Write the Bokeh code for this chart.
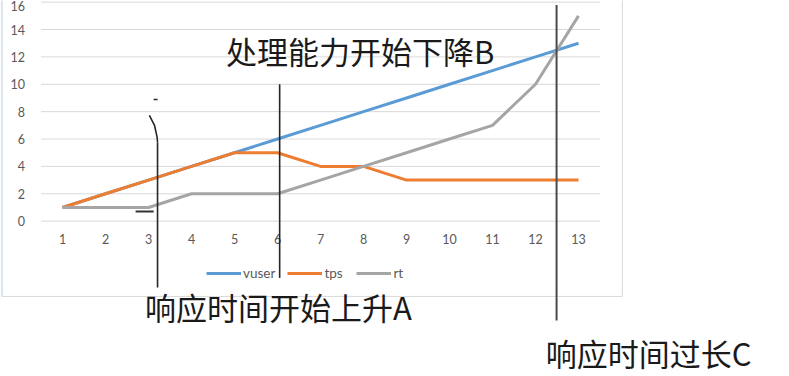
from bokeh.plotting import figure
from bokeh.models import (Range1d, FixedTicker, Legend, LegendItem, Label, Arrow, LinearAxis)
from bokeh.embed import file_html
from bokeh.resources import INLINE

# ---- data ----
x_vals = [1, 2, 3, 4, 5, 6, 7, 8, 9, 10, 11, 12, 13]
vuser = [1, 2, 3, 4, 5, 6, 7, 8, 9, 10, 11, 12, 13]
tps = [1, 2, 3, 4, 5, 5, 4, 4, 3, 3, 3, 3, 3]
rt = [1, 1, 1, 2, 2, 2, 3, 4, 5, 6, 7, 10, 15]
y_ticks = [0, 2, 4, 6, 8, 10, 12, 14, 16]
series_names = ["vuser", "tps", "rt"]

# annotation texts / positions (data units)
label_a = "响应时间开始上升A"
label_b = "处理能力开始下降B"
label_c = "响应时间过长C"
mark_a_x = 3.21
mark_b_x = 6.05
mark_c_x = 12.49

colors = ["#5B9BD5", "#ED7D31", "#A5A5A5"]
AXIS_FONT = "Lato"
CJK_FONT = "Noto Sans CJK SC"

# plot-area extent (category band edges)
X_LO, X_HI = 0.5, 13.5

p = figure(frame_width=789, frame_height=376, output_backend="svg", toolbar_location=None,
           x_range=Range1d(-0.442, 17.907), y_range=Range1d(-11.35, 16.12),
           x_axis_location=None, y_axis_location=None,
           min_border=0)
p.outline_line_color = None
p.background_fill_color = "white"
p.border_fill_color = "white"
p.xgrid.grid_line_color = None
p.ygrid.grid_line_color = None

xaxis = LinearAxis(fixed_location=0, ticker=FixedTicker(ticks=x_vals))
yaxis = LinearAxis(fixed_location=X_LO, ticker=FixedTicker(ticks=y_ticks))
for ax in (xaxis, yaxis):
    ax.axis_line_color = None
    ax.major_tick_line_color = None
    ax.minor_tick_line_color = None
    ax.major_label_text_font = AXIS_FONT
    ax.major_label_text_font_size = "12.5px"
    ax.major_label_text_color = "#595959"
xaxis.major_label_standoff = 7
yaxis.major_label_standoff = 10
p.add_layout(xaxis, "below")
p.add_layout(yaxis, "left")

# horizontal gridlines limited to the plot area
p.segment(x0=[X_LO] * len(y_ticks), x1=[X_HI] * len(y_ticks), y0=y_ticks, y1=y_ticks,
          line_color="#D9D9D9", line_width=1)

# series
renderers = []
for name, ys, c in zip(series_names, [vuser, tps, rt], colors):
    r = p.line(x_vals, ys, line_color=c, line_width=3)
    renderers.append(r)
legend = Legend(items=[LegendItem(label=n, renderers=[r]) for n, r in zip(series_names, renderers)],
                orientation="horizontal", location=(206, 95),
                label_text_font=AXIS_FONT, label_text_font_size="13.5px",
                label_text_color="#595959", glyph_width=35, glyph_height=14,
                label_standoff=2, spacing=12, border_line_color=None,
                background_fill_alpha=0, margin=0, padding=4)
p.add_layout(legend)

# chart-area border (light)
border_col = "#D9D9D9"
p.add_layout(Arrow(end=None, x_start=14.02, y_start=16.2, x_end=14.02, y_end=-5.5,
                   line_color=border_col, line_width=1))
p.add_layout(Arrow(end=None, x_start=-0.42, y_start=-5.5, x_end=14.02, y_end=-5.5,
                   line_color=border_col, line_width=1))
p.add_layout(Arrow(end=None, x_start=-0.41, y_start=16.2, x_end=-0.41, y_end=-5.5,
                   line_color="#DCE3EC", line_width=2))

# annotation marks
ink = "#262626"
p.add_layout(Arrow(end=None, x_start=mark_a_x, y_start=5.75, x_end=mark_a_x, y_end=-4.84,
                   line_color=ink, line_width=1.6))
p.add_layout(Arrow(end=None, x_start=mark_b_x, y_start=10.0, x_end=mark_b_x, y_end=-4.15,
                   line_color=ink, line_width=1.6))
p.add_layout(Arrow(end=None, x_start=mark_c_x, y_start=15.8, x_end=mark_c_x, y_end=-7.25,
                   line_color="#4a4a4a", line_width=2))
# bracket near A
p.line([3.02, 3.14, 3.20, mark_a_x], [7.72, 6.99, 6.14, 5.75], line_color=ink, line_width=1.6)
p.line([3.12, 3.21], [8.89, 8.89], line_color=ink, line_width=1.6)
p.line([2.70, 3.12], [0.71, 0.71], line_color="#333333", line_width=2)

# annotation texts
for txt, tx, ty in [(label_b, 7.92, 12.47), (label_a, 6.02, -6.2), (label_c, 14.63, -9.6)]:
    p.add_layout(Label(x=tx, y=ty, text=txt, text_font=CJK_FONT, text_font_size="31px",
                       text_color="#1a1a1a", text_align="center", text_baseline="middle"))

open("out.html", "w").write(file_html(p, INLINE))
